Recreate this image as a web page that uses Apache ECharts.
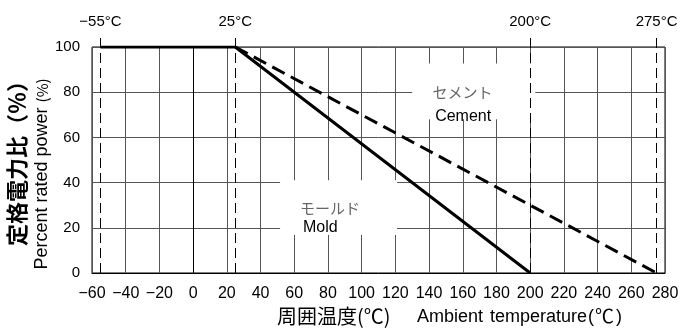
<!DOCTYPE html>
<html><head><meta charset="utf-8">
<script src="https://cdn.jsdelivr.net/npm/echarts@6/dist/echarts.min.js"></script>
<style>html,body{margin:0;padding:0;background:#fff}#c{width:685px;height:336px}</style>
</head><body><div id="c"></div>
<script>
// ---- data ----
const xMin = -60, xMax = 280, xStep = 20;
const yMin = 0, yMax = 100, yStep = 20;
const moldTemp = [-55, 25, 200];
const moldPower = [100, 100, 0];
const cementTemp = [25, 275];
const cementPower = [100, 0];
const refTemps = [-55, 25, 200, 275];
const refLabels = ['−55°C', '25°C', '200°C', '275°C'];
const refTopValue = 106;
// annotation boxes (data space)
const cementBox = [[130, 92.7], [203, 68]];
const moldBox = [[51.6, 41], [121, 16.8]];
const boxTexts = [
  { text: 'セメント', at: [142, 80], kind: 'jp' },
  { text: 'Cement', at: [143.6, 69.3], kind: 'en' },
  { text: 'モールド', at: [63.4, 28.7], kind: 'jp' },
  { text: 'Mold', at: [65.2, 20.1], kind: 'en' }
];

const chart = echarts.init(document.getElementById('c'), null, { renderer: 'canvas' });
const latin = 'Liberation Sans, Arial, sans-serif';
const cjk = 'Noto Sans CJK JP, sans-serif';

const textStyles = {
  jp: { fontFamily: cjk, fontSize: 15, color: '#666' },
  en: { fontFamily: latin, fontSize: 16, color: '#000' }
};

const G = { left: 92, right: 20, top: 47, bottom: 63 };
const plotH = 336 - G.top - G.bottom;
const refGridTop = G.top - (refTopValue - yMax) / (yMax - yMin) * plotH;

function txt(x, y, text, font, align) {
  return { type: 'text', x: x, y: y, style: { text: text, font: font, fill: '#000', align: align || 'left', verticalAlign: 'middle', textAlign: align || 'left', textVerticalAlign: 'middle' } };
}

const option = {
  animation: false,
  backgroundColor: '#fff',
  grid: [
    Object.assign({ show: true, borderColor: '#000', borderWidth: 1, backgroundColor: 'transparent' }, G),
    { left: G.left, right: G.right, bottom: G.bottom, top: refGridTop, show: false }
  ],
  xAxis: [{
    type: 'value', min: xMin, max: xMax, interval: xStep,
    axisLine: { show: true, lineStyle: { color: '#000', width: 1 } },
    axisTick: { show: false },
    splitLine: { show: true, lineStyle: { color: '#555', width: 1 } },
    axisLabel: { color: '#000', fontSize: 16, fontFamily: latin, margin: 13,
      formatter: v => String(v).replace('-', '−') }
  }, {
    gridIndex: 1, type: 'value', min: xMin, max: xMax, show: false
  }],
  yAxis: [{
    type: 'value', min: yMin, max: yMax, interval: yStep,
    axisLine: { show: true, lineStyle: { color: '#000', width: 1 } },
    axisTick: { show: false },
    splitLine: { show: true, lineStyle: { color: '#555', width: 1 } },
    axisLabel: { color: '#000', fontSize: 15, fontFamily: latin, margin: 12 }
  }, {
    gridIndex: 1, type: 'value', min: yMin, max: refTopValue, show: false
  }],
  series: [
    {
      type: 'line', data: [], z: 2, xAxisIndex: 1, yAxisIndex: 1, silent: true,
      markLine: {
        silent: true, symbol: ['none', 'none'], animation: false,
        lineStyle: { color: '#000', width: 1, type: [10, 5] },
        label: { show: true, position: 'end', distance: 4, formatter: '{b}', color: '#000', fontSize: 15, fontFamily: latin },
        data: refTemps.map((t, i) => [{ name: refLabels[i], coord: [t, yMin] }, { coord: [t, refTopValue] }])
      }
    },
    {
      type: 'line', data: [], z: 3, silent: true,
      markArea: {
        silent: true,
        itemStyle: { color: '#fff', opacity: 1, borderWidth: 0 },
        data: [
          [{ coord: cementBox[0] }, { coord: cementBox[1] }],
          [{ coord: moldBox[0] }, { coord: moldBox[1] }]
        ]
      },
      markPoint: {
        silent: true, symbol: 'circle', symbolSize: 1,
        itemStyle: { color: 'rgba(0,0,0,0)' },
        data: boxTexts.map(b => ({
          coord: b.at, name: b.text,
          label: Object.assign({ show: true, position: 'inside', align: 'left', verticalAlign: 'middle', formatter: b.text }, textStyles[b.kind])
        }))
      }
    },
    {
      name: 'Mold', type: 'line', z: 4, symbol: 'none',
      data: moldTemp.map((t, i) => [t, moldPower[i]]),
      lineStyle: { color: '#000', width: 3 }
    },
    {
      name: 'Cement', type: 'line', z: 4, symbol: 'none',
      data: cementTemp.map((t, i) => [t, cementPower[i]]),
      lineStyle: { color: '#000', width: 3, type: [14, 7] }
    }
  ],
  graphic: [
    {
      type: 'text', x: 17, y: 158, rotation: Math.PI / 2,
      style: { text: '定格電力比（％）', font: 'bold 22px Noto Sans CJK JP', fill: '#000', align: 'center', verticalAlign: 'middle', textAlign: 'center', textVerticalAlign: 'middle' }
    },
    {
      type: 'text', x: 42, y: 174, rotation: Math.PI / 2,
      style: {
        text: '{a|Percent rated power }{b|(%)}', fill: '#000', align: 'center', verticalAlign: 'middle', textAlign: 'center', textVerticalAlign: 'middle',
        rich: { a: { fontFamily: latin, fontSize: 18, fill: '#000' }, b: { fontFamily: cjk, fontSize: 15, fill: '#000' } }
      }
    },
    txt(277, 316, '周囲温度(℃)', '20px Noto Sans CJK JP'),
    txt(417, 317, 'Ambient', '18px Liberation Sans'),
    txt(490, 317, 'temperature', '18px Liberation Sans'),
    txt(588, 317, '(', '18px Liberation Sans'),
    txt(595, 316, '℃', '19px Noto Sans CJK JP'),
    txt(616, 317, ')', '18px Liberation Sans')
  ]
};
chart.setOption(option);
</script>
</body></html>
